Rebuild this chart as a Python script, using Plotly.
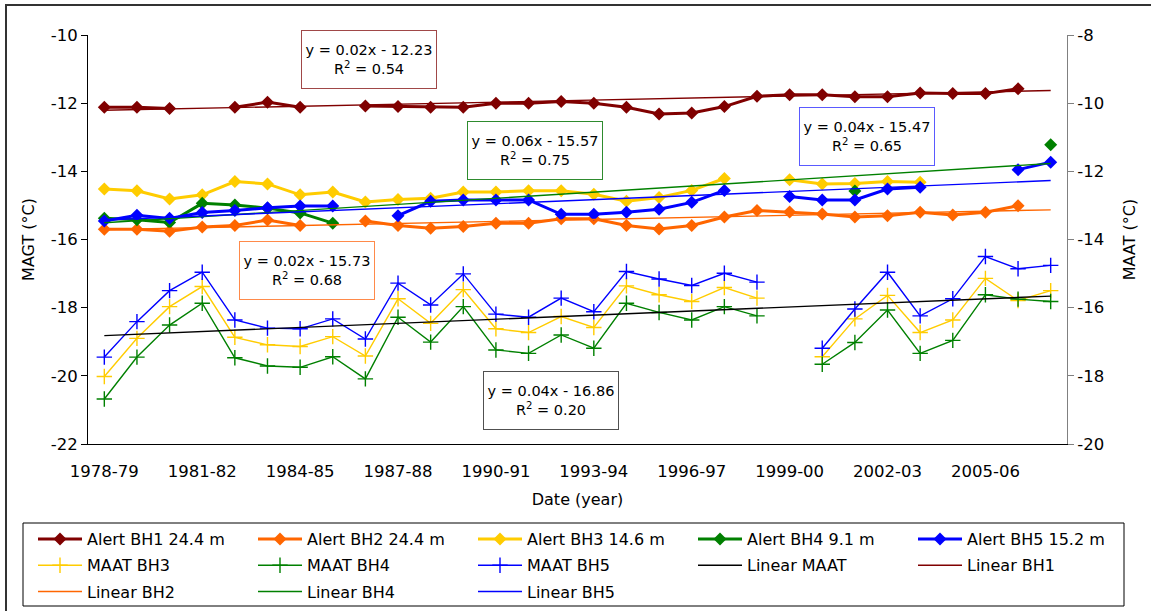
import numpy as np
import plotly.graph_objects as go

# ---- data -------------------------------------------------------------
years = [f"{y}-{str(y + 1)[-2:]}" for y in range(1978, 2008)]
tick_every = 3

bh1 = [-12.12, -12.12, -12.16, None, -12.12, -11.97, -12.12, None, -12.08, -12.10,
       -12.12, -12.12, -12.00, -12.00, -11.95, -12.00, -12.12, -12.32, -12.29, -12.10,
       -11.80, -11.75, -11.75, -11.81, -11.81, -11.70, -11.72, -11.72, -11.58, None]
bh2 = [-15.70, -15.70, -15.76, -15.63, -15.59, -15.43, -15.59, None, -15.46, -15.59,
       -15.67, -15.62, -15.52, -15.52, -15.39, -15.39, -15.59, -15.69, -15.59, -15.34,
       -15.15, -15.19, -15.25, -15.34, -15.30, -15.20, -15.28, -15.20, -15.01, None]
bh3 = [-14.52, -14.57, -14.81, -14.69, -14.30, -14.37, -14.69, -14.61, -14.90, -14.83,
       -14.79, -14.61, -14.61, -14.57, -14.57, -14.67, -14.88, -14.77, -14.56, -14.21,
       None, -14.25, -14.37, -14.36, -14.30, -14.32, None, None, None, None]
bh4 = [-15.38, -15.42, -15.50, -14.94, -14.99, -15.08, -15.22, -15.52, None, None,
       None, None, None, None, None, None, None, None, None, None,
       None, None, None, -14.58, None, None, None, None, None, -13.22]
bh5 = [-15.46, -15.29, -15.38, -15.21, -15.15, -15.07, -15.02, -15.02, None, -15.30,
       -14.88, -14.84, -14.84, -14.84, -15.26, -15.26, -15.20, -15.11, -14.91, -14.56,
       None, -14.74, -14.84, -14.84, -14.52, -14.47, None, None, -13.95, -13.73]

maat_bh3 = [-18.02, -16.90, -15.97, -15.38, -16.87, -17.09, -17.14, -16.85, -17.42, -15.74,
            -16.46, -15.47, -16.62, -16.73, -16.26, -16.58, -15.36, -15.62, -15.82, -15.41,
            -15.72, None, -17.44, -16.33, -15.64, -16.73, -16.36, -15.14, -15.79, -15.50]
maat_bh4 = [-18.68, -17.45, -16.51, -15.87, -17.47, -17.71, -17.75, -17.44, -18.09, -16.28,
            -17.01, -15.97, -17.24, -17.34, -16.80, -17.19, -15.87, -16.14, -16.36, -15.97,
            -16.24, None, -17.66, -17.02, -16.07, -17.34, -16.96, -15.62, -15.75, -15.82]
maat_bh5 = [-17.45, -16.41, -15.50, -14.96, -16.36, -16.60, -16.62, -16.33, -16.92, -15.28,
            -15.92, -15.01, -16.19, -16.28, -15.72, -16.12, -14.94, -15.16, -15.35, -14.99,
            -15.25, None, -17.19, -16.04, -14.96, -16.24, -15.74, -14.50, -14.86, -14.76]

# linear trends (x = 1 .. n, as in the spreadsheet trendlines)
trend_names = ["Linear MAAT", "Linear BH1", "Linear BH2", "Linear BH4", "Linear BH5"]
trend_slope = [0.04, 0.02, 0.02, 0.06, 0.04]
trend_icept = [-16.86, -12.23, -15.73, -15.57, -15.47]
trend_r2 = [0.20, 0.54, 0.68, 0.75, 0.65]

magt_ticks = [-22, -20, -18, -16, -14, -12, -10]
maat_ticks = [-20, -18, -16, -14, -12, -10, -8]

# ---- styling ----------------------------------------------------------
FONT = "DejaVu Sans"
C_BH1, C_BH2, C_BH3, C_BH4, C_BH5 = "#800000", "#FF6600", "#FFCC00", "#008000", "#0000FF"

W, H = 1151, 611
L, R, T, B = 88, 84, 35, 167
PW, PH = W - L - R, H - T - B


def px_x(px):
    return (px - L) / PW


def px_y(py):
    return (H - B - py) / PH


# legend laid out as a 5-column grid, one vertical legend per column
N_COLS = 5
COL_X0, COL_STEP = 33, 220
legend_ids = ["legend"] + [f"legend{k}" for k in range(2, N_COLS + 1)]
traces = []

x = np.arange(len(years))

alert = [("Alert BH1 24.4 m", bh1, C_BH1), ("Alert BH2 24.4 m", bh2, C_BH2),
         ("Alert BH3 14.6 m", bh3, C_BH3), ("Alert BH4 9.1 m", bh4, C_BH4),
         ("Alert BH5 15.2 m", bh5, C_BH5)]
for name, vals, col in alert:
    traces.append(go.Scatter(
        x=x, y=vals, name=name, mode="lines+markers", connectgaps=False,
        line=dict(color=col, width=3),
        marker=dict(symbol="diamond", size=10, color=col)))

maat = [("MAAT BH3", maat_bh3, C_BH3), ("MAAT BH4", maat_bh4, C_BH4),
        ("MAAT BH5", maat_bh5, C_BH5)]
for name, vals, col in maat:
    traces.append(go.Scatter(
        x=x, y=vals, name=name, yaxis="y2", mode="lines+markers", connectgaps=False,
        line=dict(color=col, width=1.4),
        marker=dict(symbol="cross-thin", size=11, line=dict(color=col, width=1.4))))

trend_cols = ["#000000", C_BH1, C_BH2, C_BH4, C_BH5]
xe = np.array([x[0], x[-1]])
for name, m, c, col in zip(trend_names, trend_slope, trend_icept, trend_cols):
    traces.append(go.Scatter(
        x=xe, y=m * (xe + 1) + c, name=name, mode="lines",
        yaxis="y2" if name == "Linear MAAT" else "y",
        line=dict(color=col, width=1.4)))

fig = go.Figure()
for k, tr in enumerate(traces):
    tr.update(legend=legend_ids[k % N_COLS], legendgroup=tr.name)
    fig.add_trace(tr)

# ---- equation boxes ---------------------------------------------------
boxes = [  # trend index, centre (px), border colour
    (1, (369, 59), "#A04848"),
    (3, (535, 150), "#2E8B2E"),
    (4, (867, 136), "#5A5AFF"),
    (2, (307, 270), "#FF8A4A"),
    (0, (551, 400), "#505050"),
]
for i, (cx, cy), bc in boxes:
    sign = "-" if trend_icept[i] < 0 else "+"
    txt = (f"y = {trend_slope[i]:.2f}x {sign} {abs(trend_icept[i]):.2f}<br>"
           f"R<sup>2</sup> = {trend_r2[i]:.2f}")
    fig.add_annotation(
        x=px_x(cx), y=px_y(cy), xref="paper", yref="paper",
        xanchor="center", yanchor="middle", text=txt,
        showarrow=False, width=134, height=57, bgcolor="white",
        bordercolor=bc, borderwidth=1, borderpad=0, align="center",
        font=dict(family=FONT, size=14.5, color="black"))

# ---- axes -------------------------------------------------------------
tick_font = dict(family=FONT, size=16.5, color="black")
layout = dict(
    width=W, height=H, margin=dict(l=L, r=R, t=T, b=B, autoexpand=False),
    paper_bgcolor="white", plot_bgcolor="white",
    font=dict(family=FONT, size=16, color="black"),
    xaxis=dict(range=[-0.5, len(years) - 0.5], tickvals=list(x[::tick_every]),
               ticktext=years[::tick_every], ticks="outside", ticklen=12,
               tickcolor="rgba(0,0,0,0)", showline=True, linecolor="black",
               linewidth=1, showgrid=False, zeroline=False, tickfont=tick_font,
               title=dict(text="Date (year)", font=dict(family=FONT, size=16),
                          standoff=14)),
    xaxis2=dict(overlaying="x", anchor="y", side="bottom",
                range=[-0.5, len(years) - 0.5],
                tickvals=list(np.arange(-0.5, len(years), tick_every)),
                ticks="outside", ticklen=7, tickcolor="black", showticklabels=False,
                showline=False, showgrid=False, zeroline=False),
    yaxis=dict(range=[magt_ticks[0], magt_ticks[-1]], tickvals=magt_ticks,
               ticktext=[f"{v:d}" for v in magt_ticks], ticks="outside", ticklen=6,
               tickcolor="black", showline=True, linecolor="black", linewidth=1,
               showgrid=False, zeroline=False, tickfont=tick_font,
               title=dict(text="MAGT (°C)", font=dict(family=FONT, size=16),
                          standoff=12)),
    yaxis2=dict(overlaying="y", side="right", anchor="x",
                range=[maat_ticks[0], maat_ticks[-1]], tickvals=maat_ticks,
                ticktext=[f"{v:d}" for v in maat_ticks], ticks="outside", ticklen=6,
                tickcolor="#808080", showline=True, linecolor="#808080", linewidth=1,
                showgrid=False, zeroline=False, tickfont=tick_font,
                title=dict(text="MAAT (°C)", font=dict(family=FONT, size=16),
                           standoff=20)),
    yaxis3=dict(overlaying="y", side="right", anchor="x",
                range=[maat_ticks[0], maat_ticks[-1]], tickvals=maat_ticks,
                ticks="inside", ticklen=6, tickcolor="#808080", showticklabels=False,
                showline=False, showgrid=False, zeroline=False),
    showlegend=True,
)
for c, lid in enumerate(legend_ids):
    layout[lid] = dict(
        orientation="v", x=px_x(COL_X0 + c * COL_STEP), y=px_y(522),
        xanchor="left", yanchor="top", itemwidth=44, tracegroupgap=2.5,
        font=dict(family=FONT, size=16, color="black"),
        bgcolor="rgba(0,0,0,0)", borderwidth=0)
fig.update_layout(**layout)

# frames: chart border and legend box
fig.add_shape(type="rect", xref="paper", yref="paper",
              x0=px_x(6), x1=px_x(1165), y0=px_y(625), y1=px_y(5),
              line=dict(color="#333333", width=2), layer="below")
fig.add_shape(type="rect", xref="paper", yref="paper",
              x0=px_x(23), x1=px_x(1124), y0=px_y(606), y1=px_y(523),
              line=dict(color="black", width=1))

fig.write_html("out.html")
